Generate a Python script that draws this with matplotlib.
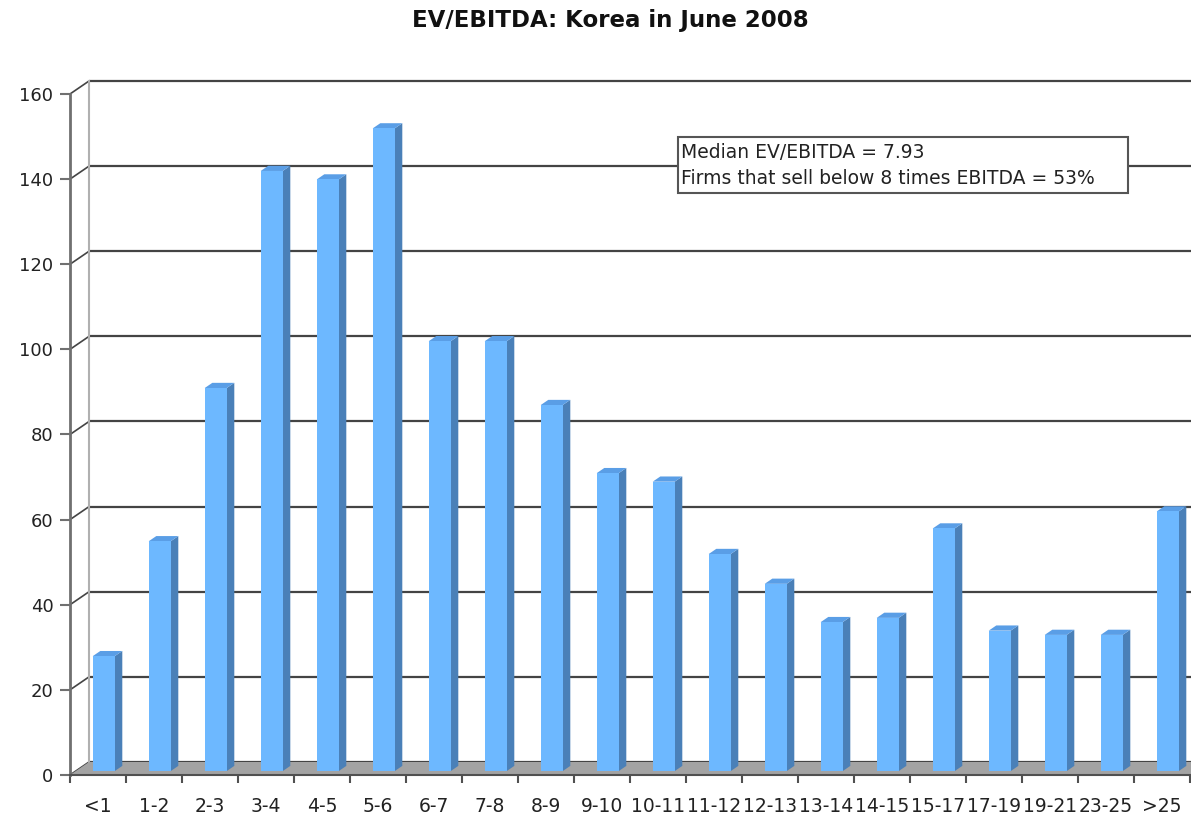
import matplotlib
matplotlib.use("Agg")
import matplotlib.pyplot as plt
from matplotlib.patches import Polygon, Rectangle

categories = ["<1", "1-2", "2-3", "3-4", "4-5", "5-6", "6-7", "7-8", "8-9", "9-10",
              "10-11", "11-12", "12-13", "13-14", "14-15", "15-17", "17-19", "19-21",
              "23-25", ">25"]
counts = [27, 54, 90, 141, 139, 151, 101, 101, 86, 70,
          68, 51, 44, 35, 36, 57, 33, 32, 32, 61]
y_ticks = [0, 20, 40, 60, 80, 100, 120, 140, 160]
title = "EV/EBITDA: Korea in June 2008"
note_lines = ["Median EV/EBITDA = 7.93",
              "Firms that sell below 8 times EBITDA = 53%"]

W, H = 1191, 817
fig = plt.figure(figsize=(W / 100, H / 100), dpi=100)
plt.rcParams["font.family"] = ["DejaVu Sans"]

# front plane of the pseudo-3D chart
x0, x1 = 70, 1190
y0, y1 = 775, 94
ax = fig.add_axes([x0 / W, 1 - y0 / H, (x1 - x0) / W, (y0 - y1) / H])
n = len(categories)
ax.set_xlim(-0.5, n - 0.5)
ax.set_ylim(0, 160)
ax.patch.set_visible(False)
for s in ax.spines.values():
    s.set_visible(False)

# depth offset of the back wall, in data units
px_x = (x1 - x0) / n
px_y = (y0 - y1) / 160
dx = 19 / px_x
dy = 13 / px_y

front_face = "#6db8ff"
side_face = "#4a80b8"
top_face = "#5a9ee6"

# floor
floor = Polygon([(-0.5, 0), (n - 0.5, 0), (n - 0.5 + dx, dy), (-0.5 + dx, dy)],
                closed=True, facecolor="#a3a3a3", edgecolor="none", zorder=1, clip_on=False)
ax.add_patch(floor)

# back wall gridlines and left wall
for v in y_ticks:
    ax.plot([-0.5 + dx, n - 0.5 + 2 * dx], [v + dy, v + dy], color="#444444", lw=1.6,
            zorder=0.5, clip_on=False, solid_capstyle="butt")
    ax.plot([-0.5, -0.5 + dx], [v, v + dy], color="#444444", lw=1.2,
            zorder=0.6, clip_on=False)
ax.plot([-0.5 + dx, -0.5 + dx], [dy, 160 + dy], color="#b0b0b0", lw=1.5,
        zorder=0.6, clip_on=False)

# front axis lines
ax.plot([-0.5, -0.5], [0, 160], color="#707070", lw=2, zorder=5, clip_on=False)
ax.plot([-0.5, n - 0.5], [0, 0], color="#505050", lw=1.5, zorder=5, clip_on=False)

# bars
bw = 22 / px_x
fd = 0.3          # depth position of bar front face
bd = 0.4          # bar depth (fraction of wall depth)
for i, v in enumerate(counts):
    ox = fd * dx
    oy = fd * dy
    left = i - 0.5 * bw + ox
    right = left + bw
    bottom = oy
    top = v + oy
    ddx, ddy = bd * dx, bd * dy
    ax.add_patch(Polygon([(right, bottom), (right + ddx, bottom + ddy),
                          (right + ddx, top + ddy), (right, top)], closed=True,
                         facecolor=side_face, edgecolor="none", zorder=3, clip_on=False))
    ax.add_patch(Polygon([(left, top), (right, top), (right + ddx, top + ddy),
                          (left + ddx, top + ddy)], closed=True,
                         facecolor=top_face, edgecolor="none", zorder=3, clip_on=False))
    ax.add_patch(Rectangle((left, bottom), bw, v, facecolor=front_face,
                           edgecolor="none", zorder=4, clip_on=False))

# ticks
ax.set_yticks(y_ticks)
ax.set_yticklabels([str(v) for v in y_ticks], fontsize=13, color="#222222")
ax.tick_params(axis="y", length=7, width=1.5, color="#707070", pad=5)
ax.set_xticks(range(n))
ax.set_xticklabels(categories, fontsize=13.5, color="#222222")
ax.tick_params(axis="x", which="major", length=0, pad=15.5)
ax.set_xticks([i - 0.5 for i in range(n + 1)], minor=True)
ax.tick_params(axis="x", which="minor", length=6, width=1.5, color="#505050")

fig.text(610 / W, 1 - 20 / H, title, ha="center", va="center",
         fontsize=16.5, fontweight="bold", color="#111111")

# note box
bx0, by0, bx1, by1 = 678, 137, 1128, 193
fig.patches.append(Rectangle((bx0 / W, 1 - by1 / H), (bx1 - bx0) / W, (by1 - by0) / H,
                             transform=fig.transFigure, facecolor="white",
                             edgecolor="#555555", lw=1.5, zorder=10))
for k, line in enumerate(note_lines):
    fig.text(681 / W, 1 - (153 + 25 * k) / H, line, ha="left", va="center",
             fontsize=13.5, color="#222222", zorder=11)

fig.savefig("out.png", dpi=100, facecolor="white")
